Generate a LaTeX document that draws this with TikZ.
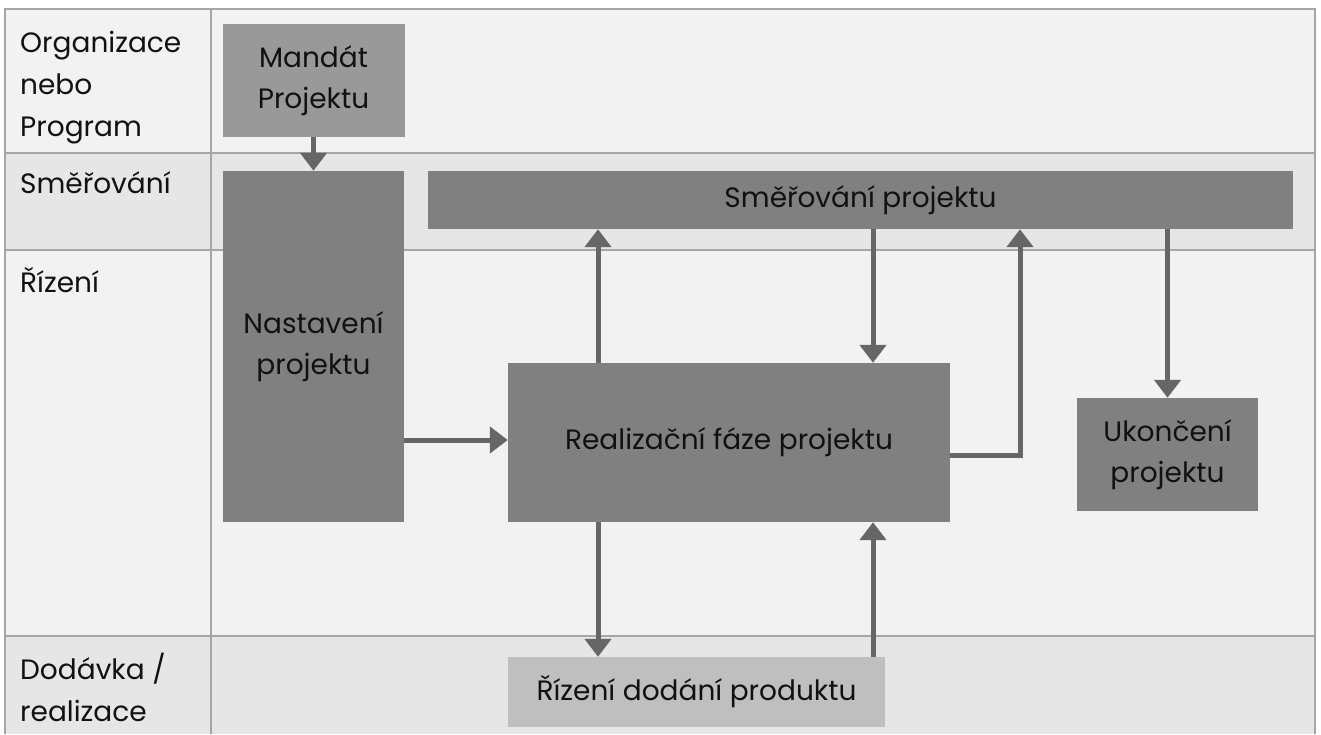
\documentclass[tikz,border=0pt]{standalone}
\usepackage{fontspec}
\setmainfont{Poppins}
\usetikzlibrary{arrows.meta}
\definecolor{rowlight}{HTML}{F2F2F2}
\definecolor{rowdark}{HTML}{E6E6E6}
\definecolor{gridline}{HTML}{A6A6A6}
\definecolor{boxdark}{HTML}{808080}
\definecolor{boxmid}{HTML}{999999}
\definecolor{boxlight}{HTML}{BFBFBF}
\definecolor{arrowcol}{HTML}{666666}
\definecolor{ink}{HTML}{111111}
\begin{document}
\begin{tikzpicture}[x=1pt,y=-1pt,
  lbl/.style={anchor=base west,align=left,text=ink,inner sep=0pt,
    font=\fontsize{28}{42}\selectfont},
  blk/.style={rectangle,inner sep=0pt,text=ink,align=center,
    font=\fontsize{28}{41}\selectfont},
  arr/.style={draw=arrowcol,line width=5pt,-{Triangle[width=26pt,length=18pt]}}]
\useasboundingbox (0,0) rectangle (1321,734);
% lane backgrounds
\fill[rowlight] (5,9) rectangle (1315,153);
\fill[rowdark]  (5,153) rectangle (1315,250);
\fill[rowlight] (5,250) rectangle (1315,636);
\fill[rowdark]  (5,636) rectangle (1315,734);
% lane grid
\draw[gridline,line width=2pt] (5,734) -- (5,9) -- (1315,9) -- (1315,734);
\draw[gridline,line width=2pt] (211,9) -- (211,734);
\foreach \yy in {153,250,636} \draw[gridline,line width=2pt] (5,\yy) -- (1315,\yy);
% lane labels (anchored on the baseline of their last line)
\node[lbl] (l1) at (20,136) {Organizace\\nebo\\Program};
\node[lbl] (l2) at (20,193) {Směřování};
\node[lbl] (l3) at (20,292) {Řízení};
\node[lbl] (l4) at (20,721) {Dodávka /\\realizace};
% process blocks
\node[blk,fill=boxmid,minimum width=182pt,minimum height=113pt] (mandat) at (313.5,80.5) {Mandát\\Projektu};
\node[blk,fill=boxdark,minimum width=181pt,minimum height=351pt] (nast) at (313.5,346.5) {Nastavení\\projektu};
\node[blk,fill=boxdark,minimum width=865pt,minimum height=58pt] (smer) at (860.5,200) {Směřování projektu};
\node[blk,fill=boxdark,minimum width=442pt,minimum height=159pt] (real) at (729,442.5) {Realizační fáze projektu};
\node[blk,fill=boxdark,minimum width=181pt,minimum height=113pt] (ukon) at (1167.5,454.5) {Ukončení\\projektu};
\node[blk,fill=boxlight,minimum width=377pt,minimum height=70pt] (rizeni) at (696.5,692) {Řízení dodání produktu};
% connector guide coordinates
\coordinate (cA) at (598,0);
\coordinate (cB) at (873,0);
\coordinate (cC) at (1020,455);
\coordinate (cD) at (1167.5,0);
\coordinate (cE) at (0,440);
% connectors
\draw[arr] (mandat) -- (nast);
\draw[arr] (nast.east |- cE) -- (real.west |- cE);
\draw[arr] (real.north -| cA) -- (smer.south -| cA);
\draw[arr] (smer.south -| cB) -- (real.north -| cB);
\draw[arr,line join=miter] (real.east |- cC) -- (cC) -- (smer.south -| cC);
\draw[arr] (smer.south -| cD) -- (ukon.north);
\draw[arr] (real.south -| cA) -- (rizeni.north -| cA);
\draw[arr] (rizeni.north -| cB) -- (real.south -| cB);
\end{tikzpicture}
\end{document}
